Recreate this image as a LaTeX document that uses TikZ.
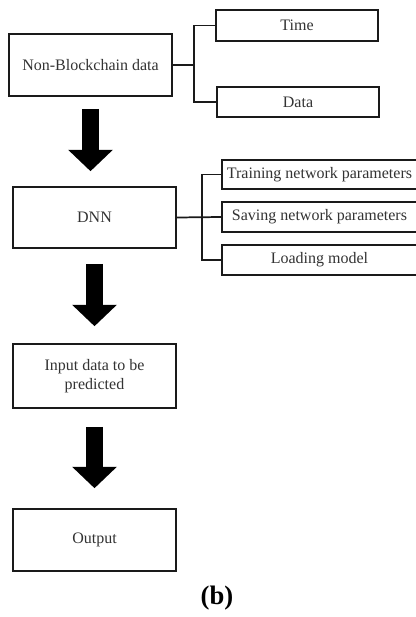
\documentclass[tikz,border=0pt]{standalone}
\usepackage{fontspec}
\setmainfont{Liberation Serif}
\usetikzlibrary{arrows.meta}
\definecolor{txt}{HTML}{333333}
\definecolor{ln}{HTML}{1A1A1A}
\tikzset{
  box/.style={draw=ln, line width=1.2pt, rectangle, inner sep=0pt, align=center,
    text=txt, font=\fontsize{12}{14.5}\selectfont},
  link/.style={draw=ln, line width=1.3pt},
  bigarrow/.style={draw=black, line width=12.5pt,
    -{Triangle[width=32.5pt,length=16pt]}},
}
\begin{document}
\begin{tikzpicture}[x=0.75pt,y=-0.75pt]
\useasboundingbox (0,0) rectangle (415,617);
\fill[white] (0,0) rectangle (415,617);
% main column
\node[box, minimum width=122.25pt, minimum height=46.5pt] (nb) at (90.5,65) {Non-Blockchain data};
\node[box, minimum width=122.25pt, minimum height=45.75pt] (dnn) at (94.5,217.5) {DNN};
\node[box, minimum width=122.25pt, minimum height=48pt] (inp) at (94.5,376) {Input data to be\\predicted};
\node[box, minimum width=122.25pt, minimum height=46.5pt] (out) at (94.5,540) {Output};
% side boxes
\node[box, minimum width=121.5pt, minimum height=23.25pt] (time) at (297,25.5) {Time};
\node[box, minimum width=121.5pt, minimum height=22.5pt] (data) at (298,102) {Data};
\node[box, minimum width=146.25pt, minimum height=21.75pt] (train) at (319.5,174.5) {Training network parameters};
\node[box, minimum width=146.25pt, minimum height=22.5pt] (save) at (319.5,217) {Saving network parameters};
\node[box, minimum width=146.25pt, minimum height=22.5pt] (load) at (319.5,260) {Loading model};
% brackets
\coordinate (j1) at (194,65);
\draw[link] (nb.east) -- (j1);
\draw[link] (time.west) -| (j1);
\draw[link] (data.west) -| (j1);
\coordinate (j2) at (202,217);
\draw[link] (dnn.east) -- (save.west);
\draw[link] (train.west) -| (j2);
\draw[link] (load.west) -| (j2);
% big arrows
\draw[bigarrow, shorten <=9pt, shorten >=11.25pt] (nb.south) -- (nb.south |- dnn.north);
\draw[bigarrow, shorten <=11.25pt, shorten >=12.75pt] (dnn.south) -- (inp.north);
\draw[bigarrow, shorten <=13.5pt, shorten >=15pt] (inp.south) -- (out.north);
% caption
\node[font=\fontsize{20}{24}\selectfont\bfseries, text=black] (cap) at (217,598) {(b)};
\end{tikzpicture}
\end{document}
